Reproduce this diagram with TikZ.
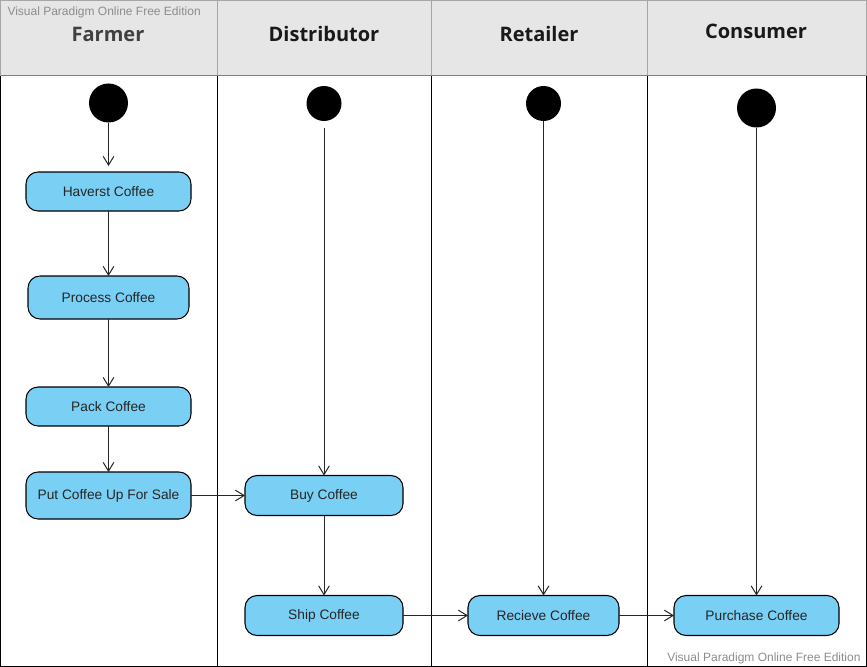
\documentclass[tikz,border=0pt]{standalone}
\usepackage{fontspec}
\setmainfont{Liberation Sans}
\newfontfamily\lanefont{Open Sans}
\usetikzlibrary{arrows.meta,positioning}
\definecolor{actblue}{HTML}{7ACFF5}
\definecolor{headgrey}{HTML}{E6E6E6}
\definecolor{edgegrey}{HTML}{A6A6A6}
\definecolor{markgrey}{HTML}{8C8C8C}
\tikzset{myact/.style={
  shape=rectangle,
  rounded corners=9pt,
  draw=black,
  fill=actblue,
  line width=0.8pt,
  minimum width=123.75pt,
  minimum height=29.25pt,
  inner sep=0pt,
  outer sep=0pt,
  font=\fontsize{10.3}{12}\selectfont,
  text=black!85,
  },
  mystart/.style={
  shape=circle,
  draw=none,
  fill=black,
  inner sep=0pt,
  outer sep=0pt,
  minimum size=26.25pt,
  },
  mylane/.style={
  font=\lanefont\bfseries\fontsize{15}{18}\selectfont,
  text=black!90,
  },
  myflow/.style={
  draw=black!85,
  line width=0.75pt,
  -{Straight Barb[length=6.5pt,width=8pt]},
  },
  mymark/.style={
  inner sep=0pt,
  font=\fontsize{9}{11}\selectfont,
  text=markgrey,
  }
}

\begin{document}
\begin{tikzpicture}[x=0.75pt,y=-0.75pt,line width=0.75pt]
      \useasboundingbox (0,0) rectangle (867,667);
      \fill[headgrey] (0.5,0.5) rectangle (866,76);
      \foreach \x in {217,431,647} {
        \draw[edgegrey] (\x,0.5) -- (\x,76);
        \draw[black] (\x,76) -- (\x,666);
      }
      \draw[edgegrey] (0.5,76) -- (0.5,0.5) -- (866,0.5) -- (866,76);
      \draw[black!50] (0.5,76) -- (866,76);
      \draw[black] (0.5,76) -- (0.5,666) -- (866,666) -- (866,76);

      \node [mylane, text=black!75] (h1) at (108,34) {Farmer};
      \node [mylane] (h2) at (324,34) {Distributor};
      \node [mylane] (h3) at (539,34) {Retailer};
      \node [mylane] (h4) at (756,31) {Consumer};

      \node [mystart, minimum size=29.25pt] (s1) at (108.5,103) {};
      \node [mystart] (s2) at (324,103.5) {};
      \node [mystart] (s3) at (543.5,103.5) {};
      \node [mystart, minimum size=29.25pt] (s4) at (756.5,108) {};

      \node [myact] (a1) at (108.5,191.5) {Haverst Coffee};
      \node [myact, below=48.75pt of a1, minimum width=120.75pt, minimum height=32.25pt] (a2) {Process Coffee};
      \node [myact, below=51pt of a2] (a3) {Pack Coffee};
      \node [myact, below=34.5pt of a3, minimum height=35.25pt] (a4) {Put Coffee Up For Sale};
      \node [myact, right=40.5pt of a4, minimum width=118.5pt, minimum height=30pt] (a5) {Buy Coffee};
      \node [myact, below=60pt of a5, minimum width=118.5pt, minimum height=30pt] (a6) {Ship Coffee};
      \node [myact, right=48.75pt of a6, minimum width=113.25pt, minimum height=30pt] (a7) {Recieve Coffee};
      \node [myact, right=41.25pt of a7, minimum height=30pt] (a8) {Purchase Coffee};

      \draw [myflow, shorten >=4.5pt] (s1) -- (a1);
      \draw [myflow] (a1) -- (a2);
      \draw [myflow] (a2) -- (a3);
      \draw [myflow] (a3) -- (a4);
      \draw [myflow] (a4) -- (a5);
      \draw [myflow, shorten <=5pt] (s2) -- (a5);
      \draw [myflow] (a5) -- (a6);
      \draw [myflow] (a6) -- (a7);
      \draw [myflow] (s3) -- (a7);
      \draw [myflow] (a7) -- (a8);
      \draw [myflow] (s4) -- (a8);

      \node [mymark, anchor=base west] (w1) at (7,16) {Visual Paradigm Online Free Edition};
      \node [mymark, anchor=base east] (w2) at (861,661) {Visual Paradigm Online Free Edition};
\end{tikzpicture}
\end{document}
